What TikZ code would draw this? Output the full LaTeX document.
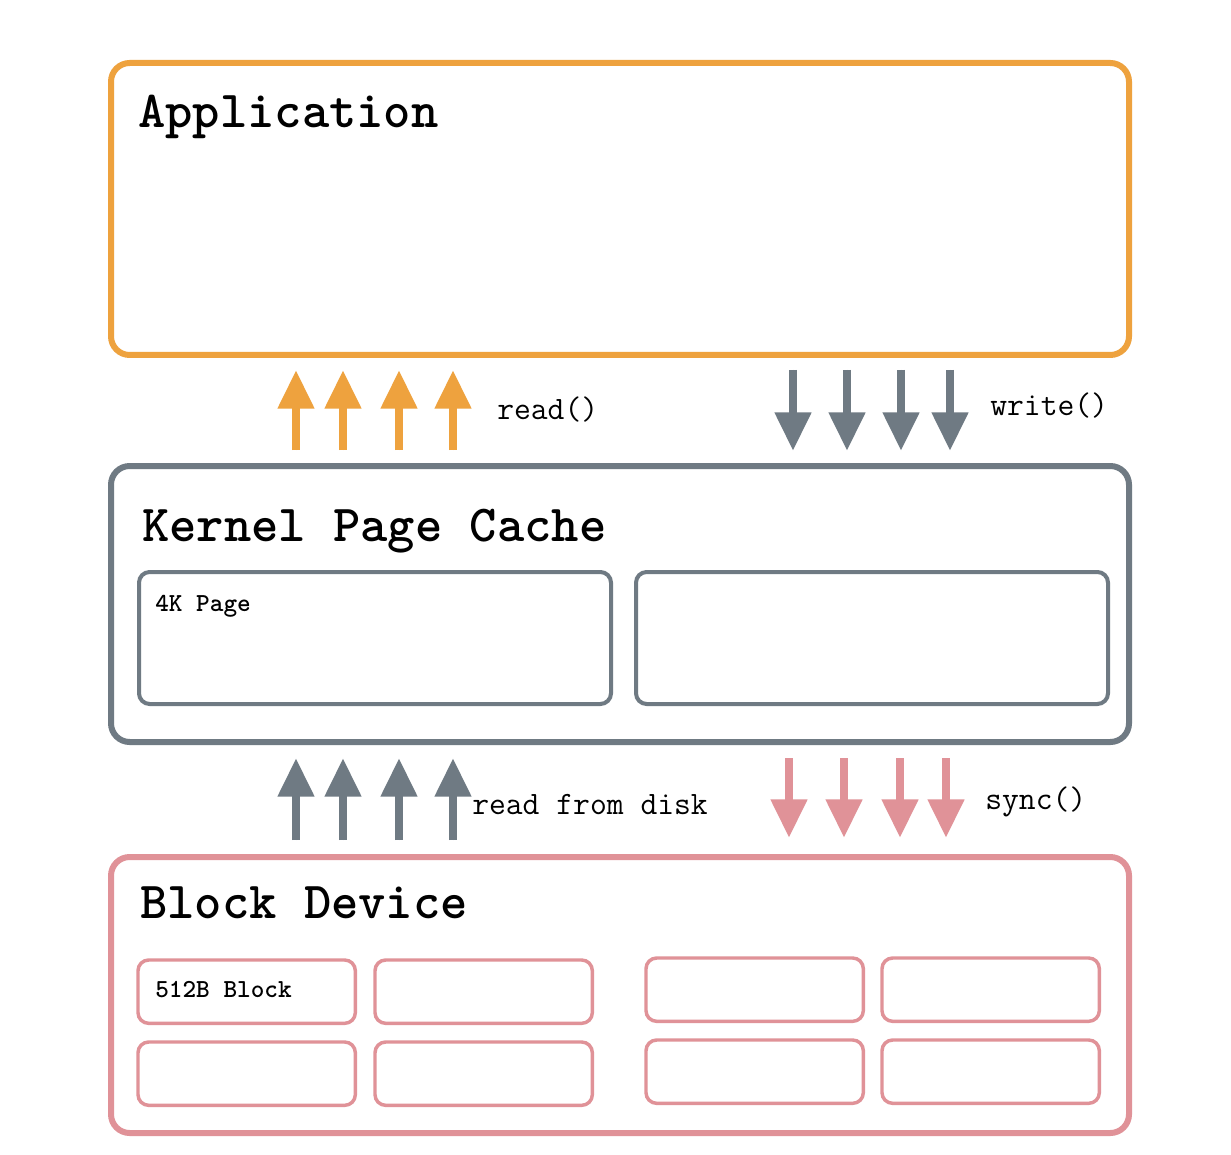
\documentclass[tikz,border=0pt]{standalone}
\usepackage{fontspec}
\usetikzlibrary{arrows.meta}
\definecolor{appor}{RGB}{238,162,62}
\definecolor{kgrey}{RGB}{111,122,131}
\definecolor{bpink}{RGB}{224,146,152}
\tikzset{
  outerbox/.style={draw, line width=4.5pt, rounded corners=14pt, inner sep=0pt, outer sep=0pt, anchor=north west},
  innerbox/.style={draw, line width=3pt, rounded corners=8pt, inner sep=0pt, outer sep=0pt, anchor=north west},
  titletext/.style={inner sep=0pt, anchor=base west, font=\fontsize{39}{40}\selectfont\ttfamily\bfseries},
  smalltext/.style={inner sep=0pt, anchor=base west, font=\fontsize{19.5}{20}\selectfont\ttfamily\bfseries},
  labeltext/.style={inner sep=0pt, anchor=base west, font=\fontsize{24.5}{26}\selectfont\ttfamily},
  fatarrow/.style={line width=6.5pt, -{Triangle[width=26pt,length=29pt]}},
}
\begin{document}
\begin{tikzpicture}[x=0.75pt,y=-0.75pt]
\useasboundingbox (0,0) rectangle (1231,1155);
\fill[white] (0,0) rectangle (1231,1155);
% Application
\node[outerbox, draw=appor, minimum width=763.5pt, minimum height=219pt] (app) at (111,63) {};
\node[titletext] (apptxt) at (138,128) {Application};
% Kernel Page Cache
\node[outerbox, draw=kgrey, minimum width=763.5pt, minimum height=207pt] (kern) at (111,466) {};
\node[titletext] (kerntxt) at (142,541) {Kernel Page Cache};
\node[innerbox, draw=kgrey, minimum width=354pt, minimum height=99pt] (page1) at (139,572) {};
\node[innerbox, draw=kgrey, minimum width=354pt, minimum height=99pt] (page2) at (636,572) {};
\node[smalltext] (pagetxt) at (155,611) {4K Page};
% Block Device
\node[outerbox, draw=bpink, minimum width=763.5pt, minimum height=207pt] (blk) at (111,857) {};
\node[titletext] (blktxt) at (140,918) {Block Device};
\foreach \n/\x/\y in {b1/138/960, b2/375/960, b3/138/1042, b4/375/1042, b5/646/958, b6/882/958, b7/646/1040, b8/882/1040}{
  \node[innerbox, draw=bpink, line width=2.6pt, minimum width=163pt, minimum height=47.5pt] (\n) at (\x,\y) {};
}
\node[smalltext] (blocktxt) at (155,997) {512B Block};
% arrows: read()
\foreach \x in {296,343,399,453}{
  \coordinate (ra\x) at (\x,450);
  \coordinate (rb\x) at (\x,370);
  \draw[fatarrow, draw=appor, fill=appor] (ra\x) -- (rb\x);
}
\node[labeltext] (readtxt) at (497,419) {read()};
% write()
\foreach \x in {793,847,901,950}{
  \coordinate (wa\x) at (\x,370);
  \coordinate (wb\x) at (\x,451);
  \draw[fatarrow, draw=kgrey, fill=kgrey] (wa\x) -- (wb\x);
}
\node[labeltext] (writetxt) at (990,416) {write()};
% read from disk
\foreach \x in {296,343,399,453}{
  \coordinate (da\x) at (\x,840);
  \coordinate (db\x) at (\x,758);
  \draw[fatarrow, draw=kgrey, fill=kgrey] (da\x) -- (db\x);
}
\node[labeltext] (disktxt) at (472,814) {read from disk};
% sync()
\foreach \x in {789,844,900,946}{
  \coordinate (sa\x) at (\x,758);
  \coordinate (sb\x) at (\x,838);
  \draw[fatarrow, draw=bpink, fill=bpink] (sa\x) -- (sb\x);
}
\node[labeltext] (synctxt) at (985,809) {sync()};
\end{tikzpicture}
\end{document}
